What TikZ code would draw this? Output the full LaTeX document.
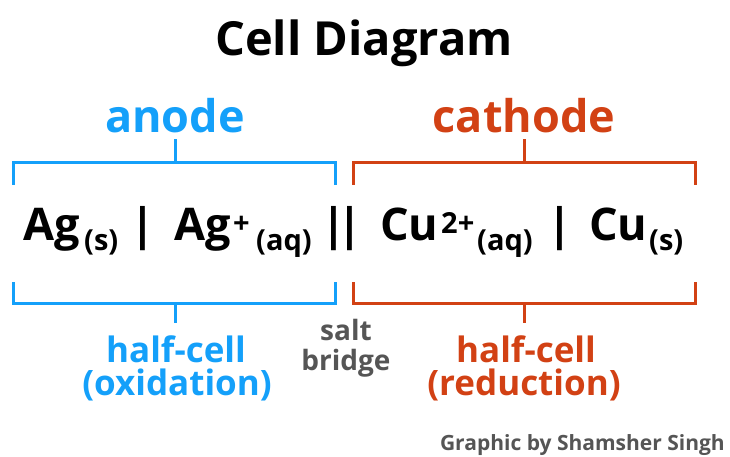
\documentclass[tikz,border=0pt]{standalone}
\usepackage{fontspec}
\setmainfont{Open Sans}
\definecolor{anodeblue}{RGB}{20,160,250}
\definecolor{cathred}{RGB}{210,65,20}
\definecolor{graytxt}{RGB}{85,85,85}
\begin{document}
\begin{tikzpicture}[x=1pt,y=-1pt,
  brk/.style={line width=3pt,line cap=rect},
  big/.style={font=\fontsize{45}{47}\selectfont\bfseries,inner sep=0pt,anchor=base west},
  bars/.style={font=\fontsize{45}{47}\selectfont\bfseries,inner sep=0pt,anchor=base},
  sub/.style={font=\fontsize{29}{31}\selectfont\bfseries,inner sep=0pt,anchor=base west},
  lbl/.style={font=\fontsize{45}{47}\selectfont\bfseries,inner sep=0pt,anchor=base},
  small/.style={font=\fontsize{35}{37}\selectfont\bfseries,inner sep=0pt,anchor=base},
  sb/.style={font=\fontsize{28}{30}\selectfont\bfseries,inner sep=0pt,anchor=base,text=graytxt}]
\useasboundingbox (0,0) rectangle (730,457);
\fill[white] (0,0) rectangle (730,457);
\node[font=\fontsize{47}{49}\selectfont\bfseries,inner sep=0pt,anchor=base] (title) at (364,56) {Cell Diagram};
\node[lbl,text=anodeblue] (anode) at (175,133) {anode};
\node[lbl,text=cathred] (cathode) at (524,133) {cathode};
% brackets
\coordinate (bta) at (175,141); \coordinate (btb) at (175,163);
\draw[brk,anodeblue] (13,183) -- (13,163) -- (335,163) -- (335,183);
\draw[brk,anodeblue] (bta) -- (btb);
\draw[brk,anodeblue] (13,283) -- (13,303) -- (335,303) -- (335,283);
\coordinate (bba) at (175,303); \coordinate (bbb) at (175,321);
\draw[brk,anodeblue] (bba) -- (bbb);
\draw[brk,cathred] (353,183) -- (353,163) -- (695,163) -- (695,183);
\coordinate (cta) at (524,141); \coordinate (ctb) at (524,163);
\draw[brk,cathred] (cta) -- (ctb);
\draw[brk,cathred] (353,283) -- (353,303) -- (695,303) -- (695,283);
\coordinate (cba) at (524,303); \coordinate (cbb) at (524,321);
\draw[brk,cathred] (cba) -- (cbb);
% formula
\node[big] (ag1) at (23,240) {Ag};
\node[sub] (s1) at (84,250) {(s)};
\node[bars] (bar1) at (143,240) {|};
\node[big] (ag2) at (174,240) {Ag};
\node[sub] (plus) at (233,233) {+};
\node[sub] (aq1) at (256,250) {(aq)};
\node[bars] (bar2a) at (334,240) {|};
\node[bars] (bar2b) at (350,240) {|};
\node[big] (cu1) at (380,240) {Cu};
\node[sub] (two) at (441,233) {2+};
\node[sub] (aq2) at (477,250) {(aq)};
\node[bars] (bar3) at (560,240) {|};
\node[big] (cu2) at (589,240) {Cu};
\node[sub] (s2) at (649,250) {(s)};
% labels
\node[small,text=anodeblue] (hc1a) at (176,362) {half-cell};
\node[small,text=anodeblue] (hc1b) at (177,395) {(oxidation)};
\node[small,text=cathred] (hc2a) at (526,362) {half-cell};
\node[small,text=cathred] (hc2b) at (524,395) {(reduction)};
\node[sb] (sb1) at (346,340) {salt};
\node[sb] (sb2) at (346,370) {bridge};
\node[font=\fontsize{21}{23}\selectfont\bfseries,inner sep=0pt,text=graytxt,anchor=base east] (cred) at (725,450) {Graphic by Shamsher Singh};
\end{tikzpicture}
\end{document}
